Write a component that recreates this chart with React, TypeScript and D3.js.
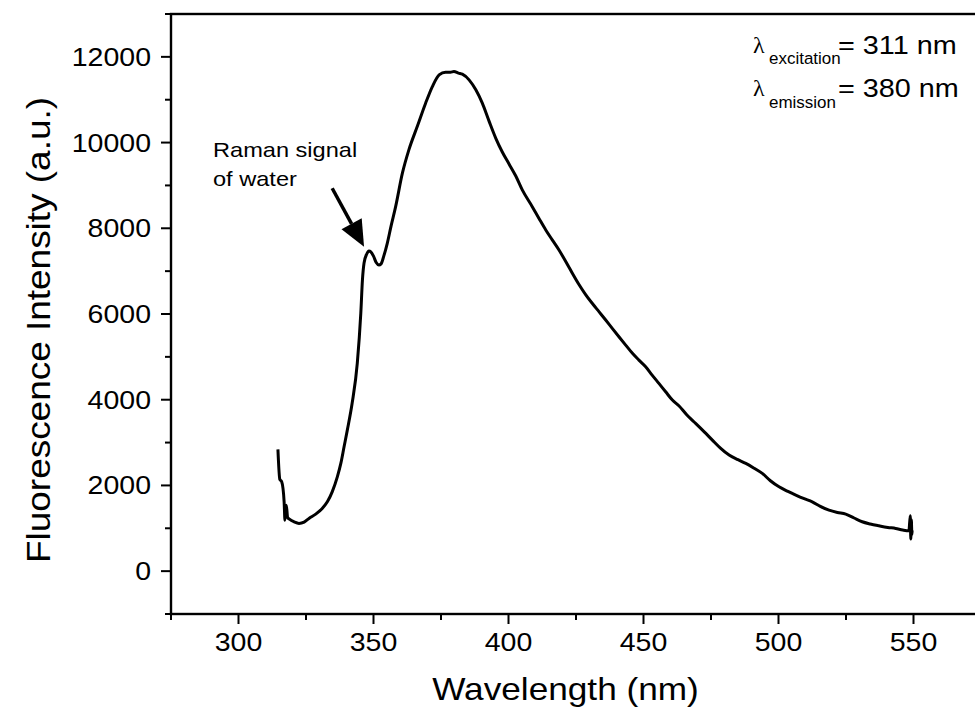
import React from "react";
import * as d3 from "d3";

// ---- Data ----
const wavelength = [
  314.6, 315.3, 316.0, 316.9, 317.2, 317.7, 318.2, 319.0, 320.6, 322.4, 324.3, 326.1, 328.6,
  331.0, 332.9, 334.7, 336.6, 337.9, 339.1, 340.3, 342.1, 344.0, 345.3, 345.9, 346.5, 347.5,
  348.3, 349.0, 350.0, 351.0, 352.0, 352.8, 353.8, 355.1, 356.5, 358.2, 360.7, 363.1, 366.2,
  369.3, 371.8, 374.3, 376.7, 378.5, 379.8, 381.5, 382.9, 385.4, 387.9, 390.3, 392.8, 395.3,
  397.7, 400.2, 402.7, 405.1, 408.8, 411.3, 413.8, 416.2, 418.7, 422.4, 426.1, 428.5, 431.0,
  433.5, 436.0, 438.5, 440.9, 443.4, 445.9, 448.3, 450.8, 453.2, 455.7, 458.2, 460.7, 463.1,
  466.0, 468.0, 469.3, 472.5,
  475.5, 478.5, 481.7, 485.0, 487.9, 491.0, 494.0, 497.0, 500.2, 503.5, 506.4, 509.5, 512.5,
  515.5, 518.7, 521.8, 524.9, 528.0, 531.0, 534.0, 537.2, 540.5, 543.4, 546.0, 548.3, 548.8,
  549.0, 549.2, 549.4, 549.5,
];
const intensity = [
  2841, 2141, 2085, 1618, 1190, 1540, 1253, 1206, 1150, 1113, 1144, 1230, 1330,
  1463, 1618, 1851, 2201, 2514, 2902, 3291, 3922, 4855, 6022, 6792, 7190, 7400,
  7470, 7450, 7350, 7200, 7144, 7170, 7350, 7650, 8050, 8505, 9285, 9829, 10373,
  10919, 11307, 11580, 11643, 11640, 11657, 11620, 11596, 11463, 11230, 10919, 10500, 10100,
  9780, 9500, 9220, 8895, 8505, 8230, 7961, 7730, 7494, 7090, 6690, 6460, 6250,
  6055, 5860, 5660, 5470, 5275, 5082, 4925, 4770, 4575, 4381, 4185, 3992, 3860,
  3650, 3525, 3447, 3250,
  3058, 2870, 2708, 2600, 2514, 2400, 2280, 2110, 1968, 1860, 1774, 1690, 1618,
  1510, 1424, 1370, 1331, 1240, 1152, 1100, 1058, 1020, 997, 960, 941, 1290,
  750, 1200, 850, 950,
];
const xMajorTicks = [300, 350, 400, 450, 500, 550];
const xMinorTicks = [275, 325, 375, 425, 475, 525, 575];
const yMajorTicks = [0, 2000, 4000, 6000, 8000, 10000, 12000];
const yMinorTicks = [-1000, 1000, 3000, 5000, 7000, 9000, 11000, 13000];
const xDomain = [275, 575];
const yDomain = [-1000, 13000];
const xTitle = "Wavelength (nm)";
const yTitle = "Fluorescence Intensity (a.u.)";
const annotationLines = ["Raman signal", "of water"];
const arrowTail = [334.7, 8935];
const arrowTip = [346.5, 7571];
const legendRows = [
  { sub: "excitation", value: "= 311 nm" },
  { sub: "emission", value: "= 380 nm" },
];

const W = 975;
const H = 717;
const FONT = "'Liberation Sans', Arial, Helvetica, sans-serif";

function SText({ x, y, sx = 1.12, size, anchor = "start", rotate = 0, children, family = FONT }: any) {
  return (
    <text
      transform={`translate(${x},${y}) rotate(${rotate}) scale(${sx},1)`}
      fontSize={size}
      fontFamily={family}
      textAnchor={anchor}
      fill="#000"
    >
      {children}
    </text>
  );
}

export default function App() {
  const x = d3.scaleLinear().domain(xDomain).range([171, 981]);
  const y = d3.scaleLinear().domain(yDomain).range([614, 14]);
  const data = wavelength.map((w, i) => [w, intensity[i]] as [number, number]);
  const line = d3
    .line<[number, number]>()
    .x((d) => x(d[0]))
    .y((d) => y(d[1]))
    .curve(d3.curveMonotoneX);

  const x0 = x(xDomain[0]);
  const x1 = x(xDomain[1]);
  const y0 = y(yDomain[0]);
  const y1 = y(yDomain[1]);

  // arrow geometry
  const tx = x(arrowTail[0]), ty = y(arrowTail[1]);
  const hx = x(arrowTip[0]), hy = y(arrowTip[1]);
  const dx = hx - tx, dy = hy - ty;
  const len = Math.hypot(dx, dy);
  const ux = dx / len, uy = dy / len;
  const headL = 26, headW = 11.5;
  const bx = hx - ux * headL, by = hy - uy * headL;
  const head = `M${hx},${hy}L${bx - uy * headW},${by + ux * headW}L${bx + uy * headW},${by - ux * headW}Z`;

  return (
    <div style={{ position: "fixed", left: 0, top: 0, width: W, height: H, background: "#fff" }}>
      <svg width={W} height={H} style={{ display: "block" }}>
        <rect width={W} height={H} fill="#fff" />
        {/* frame */}
        <rect x={x0} y={y1} width={x1 - x0} height={y0 - y1} fill="none" stroke="#000" strokeWidth={2.4} />
        {/* x ticks */}
        {xMajorTicks.map((t) => (
          <g key={"xm" + t}>
            <line x1={x(t)} x2={x(t)} y1={y0} y2={y0 + 10} stroke="#000" strokeWidth={2} />
            <SText x={x(t)} y={651} size={25} sx={1.14} anchor="middle">{String(t)}</SText>
          </g>
        ))}
        {xMinorTicks.map((t) => (
          <line key={"xn" + t} x1={x(t)} x2={x(t)} y1={y0} y2={y0 + 6} stroke="#000" strokeWidth={2} />
        ))}
        {/* y ticks */}
        {yMajorTicks.map((t) => (
          <g key={"ym" + t}>
            <line x1={x0 - 10} x2={x0} y1={y(t)} y2={y(t)} stroke="#000" strokeWidth={2} />
            <SText x={151} y={y(t) + 9} size={25} sx={1.14} anchor="end">{String(t)}</SText>
          </g>
        ))}
        {yMinorTicks.map((t) => (
          <line key={"yn" + t} x1={x0 - 6} x2={x0} y1={y(t)} y2={y(t)} stroke="#000" strokeWidth={2} />
        ))}
        {/* titles */}
        <SText x={(x0 + 960) / 2} y={700} size={32} sx={1.1} anchor="middle">{xTitle}</SText>
        <SText x={50} y={330} size={33} sx={1.12} anchor="middle" rotate={-90}>{yTitle}</SText>
        {/* curve */}
        <path d={line(data) || ""} fill="none" stroke="#000" strokeWidth={3} strokeLinejoin="round" />
        {/* annotation */}
        {annotationLines.map((s, i) => (
          <SText key={s} x={213} y={157 + i * 28.7} size={20} sx={1.18}>{s}</SText>
        ))}
        <line x1={tx} y1={ty} x2={bx} y2={by} stroke="#000" strokeWidth={3.5} />
        <path d={head} fill="#000" />
        {/* legend */}
        {legendRows.map((r, i) => (
          <g key={r.sub}>
            <SText x={753} y={53 + i * 43} size={24} sx={1} family="'Liberation Serif', 'DejaVu Serif', serif">λ</SText>
            <SText x={769} y={64 + i * 44} size={16.5} sx={1.03}>{r.sub}</SText>
            <SText x={838} y={53.5 + i * 43} size={25.5} sx={1.13}>{r.value}</SText>
          </g>
        ))}
      </svg>
    </div>
  );
}
